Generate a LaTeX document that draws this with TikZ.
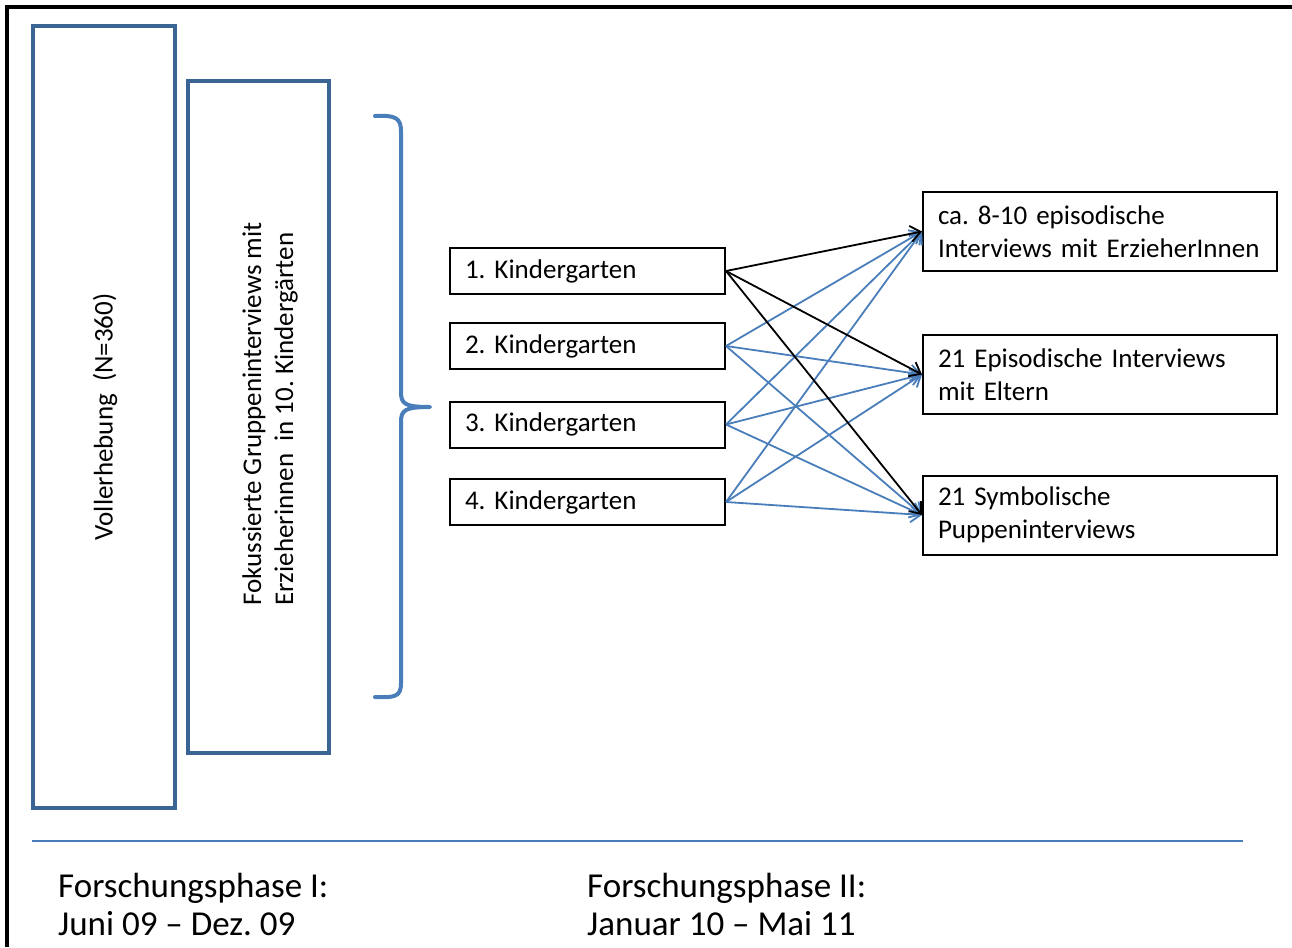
\documentclass[tikz,border=0pt]{standalone}
\usepackage{fontspec}
\setmainfont{Carlito}
\usetikzlibrary{arrows.meta}
\definecolor{boxblue}{HTML}{3A6494}
\definecolor{lineblue}{HTML}{4A7EBB}
\frenchspacing
\begin{document}
\begin{tikzpicture}[x=1pt,y=-1pt,
  bigbox/.style={draw=boxblue, line width=3.5pt, inner sep=0pt},
  kbox/.style={draw=black, line width=2pt, minimum height=46pt, text width=245pt, inner xsep=15pt, align=left, font=\fontsize{27}{33}\selectfont},
  rbox/.style={draw=black, line width=2pt, minimum height=79pt, text width=324pt, inner xsep=15pt, align=left, font=\fontsize{27}{33}\selectfont},
  vtext/.style={rotate=90, inner sep=0pt, align=left, font=\fontsize{27}{32}\selectfont},
  phase/.style={anchor=base west, inner sep=0pt, font=\fontsize{35}{40}\selectfont},
  conn/.style={line width=1.8pt, -{Straight Barb[length=10pt,width=16pt]}},
  bconn/.style={conn, draw=lineblue},
  kconn/.style={conn, draw=black}
]
\useasboundingbox (0,0) rectangle (1292,947);
% frame
\draw[line width=3.5pt] (7,947) -- (7,7) -- (1292,7);

% big boxes
\node[bigbox, minimum width=142pt, minimum height=782pt] (v) at (104,417) {};
\node[vtext] (vt) at (105,417) {Vollerhebung\ \ (N=360)};
\node[bigbox, minimum width=141pt, minimum height=672pt] (f) at (258.5,417) {};
\node[vtext] (ft) at (270,414) {Fokussierte Gruppeninterviews mit\\Erzieherinnen\ \ in 10. Kindergärten};

% brace
\draw[lineblue, line width=4pt, line cap=round, line join=round]
  (375,116) .. controls (396,115) and (401,118) .. (401,132) -- (401,392)
  .. controls (401,404) and (405,407) .. (430,407)
  .. controls (405,407) and (401,410) .. (401,422) -- (401,683)
  .. controls (401,696) and (396,698) .. (375,697);

% kindergarten boxes
\node[kbox] (k1) at (587.5,271) {1. Kindergarten};
\node[kbox] (k2) at (587.5,346) {2. Kindergarten};
\node[kbox] (k3) at (587.5,424.5) {3. Kindergarten};
\node[kbox] (k4) at (587.5,502) {4. Kindergarten};

% right boxes
\node[rbox] (a) at (1100,231.5) {ca. 8-10 episodische\\Interviews mit ErzieherInnen};
\node[rbox] (b) at (1100,374.5) {21 Episodische Interviews\\mit Eltern};
\node[rbox] (c) at (1100,515) {21 Symbolische\\Puppeninterviews};

% connectors
\foreach \k in {k2,k3,k4}{
  \foreach \t in {a,b,c}{
    \draw[bconn] (\k.east) -- (\t.west);
  }
}
\foreach \t in {a,b,c}{
  \draw[kconn] (k1.east) -- (\t.west);
}

% bottom line
\coordinate (l1) at (32,841);
\coordinate (l2) at (1243,841);
\draw[lineblue, line width=2pt] (l1) -- (l2);

% phases
\node[phase] (p1) at (58,897) {Forschungsphase I:};
\node[phase] (d1) at (58,935) {Juni 09 \textendash\ Dez. 09};
\node[phase] (p2) at (587,897) {Forschungsphase II:};
\node[phase] (d2) at (587,935) {Januar 10 \textendash\ Mai 11};
\end{tikzpicture}
\end{document}
